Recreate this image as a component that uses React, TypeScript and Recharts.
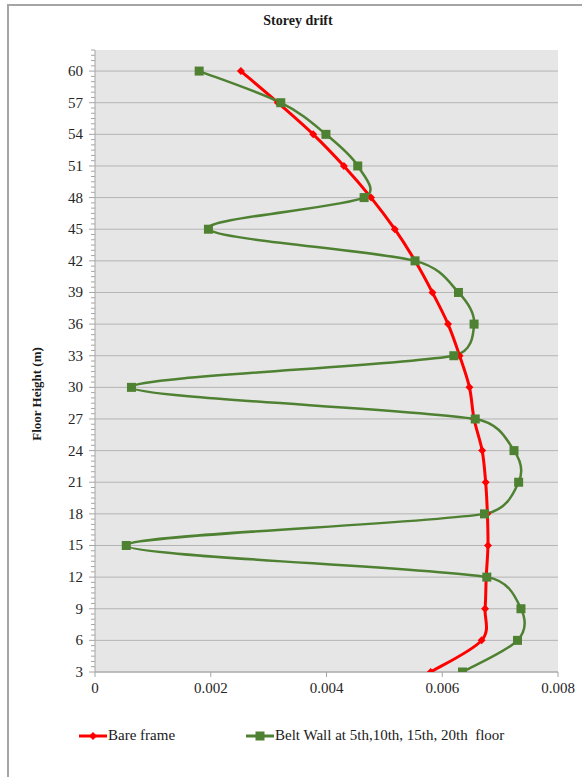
import { CartesianGrid, Line, LineChart, XAxis, YAxis } from "recharts";

// floor heights (m) and inter-storey drift for each model
const heights = [3, 6, 9, 12, 15, 18, 21, 24, 27, 30, 33, 36, 39, 42, 45, 48, 51, 54, 57, 60];
const bareFrame = [
  0.0058, 0.00668, 0.00674, 0.00676, 0.00679, 0.00678, 0.00675, 0.00669, 0.00655, 0.00647,
  0.0063, 0.0061, 0.00583, 0.00553, 0.00518, 0.00477, 0.0043, 0.00377, 0.00316, 0.00252,
];
const beltWall = [
  0.00635, 0.0073, 0.00736, 0.00677, 0.00054, 0.00673, 0.00732, 0.00724, 0.00657, 0.00063,
  0.0062, 0.00655, 0.00628, 0.00553, 0.00196, 0.00465, 0.00454, 0.00399, 0.00321, 0.0018,
];
const xTicks = [0, 0.002, 0.004, 0.006, 0.008];
const yTicks = [3, 6, 9, 12, 15, 18, 21, 24, 27, 30, 33, 36, 39, 42, 45, 48, 51, 54, 57, 60];
// minor tick marks every 0.5 m along the height axis
const yAllTicks = Array.from({ length: 119 }, (_, i) => 3 + i * 0.5);

const data = heights.map((h, i) => ({ h, bare: bareFrame[i], belt: beltWall[i] }));

const RED = "#ff0000";
const GREEN = "#4f8132";
const AXIS = "#a6a6a6";
const SERIF = "Liberation Serif, Times New Roman, serif";
const tickStyle = { fill: "#262626", fontSize: 15, fontFamily: SERIF };

// Office-style smoothed line: bezier through the points, 1/6 tension,
// control arms capped at half the segment length
const smoothCurve = (context: any) => {
  let pts: [number, number][] = [];
  const dist = (a: [number, number], b: [number, number]) => Math.hypot(a[0] - b[0], a[1] - b[1]);
  return {
    areaStart() {},
    areaEnd() {},
    lineStart() {
      pts = [];
    },
    point(x: number, y: number) {
      pts.push([x, y]);
    },
    lineEnd() {
      const n = pts.length;
      if (!n) return;
      context.moveTo(pts[0][0], pts[0][1]);
      for (let i = 0; i < n - 1; i++) {
        const p0 = pts[Math.max(i - 1, 0)];
        const p1 = pts[i];
        const p2 = pts[i + 1];
        const p3 = pts[Math.min(i + 2, n - 1)];
        const d12 = dist(p1, p2);
        const d02 = dist(p0, p2);
        const d13 = dist(p1, p3);
        const f = d02 / 6 < d12 / 2 ? 1 / 6 : d12 / (2 * d02);
        const g = d13 / 6 < d12 / 2 ? 1 / 6 : d12 / (2 * d13);
        context.bezierCurveTo(
          p1[0] + (p2[0] - p0[0]) * f,
          p1[1] + (p2[1] - p0[1]) * f,
          p2[0] - (p3[0] - p1[0]) * g,
          p2[1] - (p3[1] - p1[1]) * g,
          p2[0],
          p2[1]
        );
      }
    },
  };
};

const Diamond = (props: any) => {
  const { cx, cy } = props;
  if (cx == null || cy == null) return null;
  const r = 4;
  return (
    <path
      d={`M${cx},${cy - r}L${cx + r},${cy}L${cx},${cy + r}L${cx - r},${cy}Z`}
      fill={RED}
      stroke="none"
    />
  );
};

const Square = (props: any) => {
  const { cx, cy } = props;
  if (cx == null || cy == null) return null;
  const s = 9;
  return <rect x={cx - s / 2} y={cy - s / 2} width={s} height={s} fill={GREEN} />;
};

// height axis tick: long mark + label on multiples of 3, short mark otherwise
const HeightTick = (props: any) => {
  const { x, y, payload } = props;
  const v = payload.value;
  const major = yTicks.includes(v);
  const axisX = x + 12;
  return (
    <g>
      <line x1={axisX - (major ? 6 : 4)} y1={y} x2={axisX} y2={y} stroke={AXIS} strokeWidth={1} />
      {major && (
        <text x={x} y={y} textAnchor="end" dominantBaseline="central" {...tickStyle}>
          {v}
        </text>
      )}
    </g>
  );
};

const AxisTitle = (props: any) => {
  const { viewBox } = props;
  const cy = viewBox.y + viewBox.height / 2 + 33;
  return (
    <text
      x={36}
      y={cy}
      transform={`rotate(-90, 36, ${cy})`}
      textAnchor="middle"
      dominantBaseline="central"
      fontFamily={SERIF}
      fontSize={13}
      fontWeight="bold"
      fill="#1a1a1a"
    >
      Floor Height (m)
    </text>
  );
};

function LegendItem({ color, label, marker }: { color: string; label: string; marker: "diamond" | "square" }) {
  return (
    <div style={{ display: "flex", alignItems: "center" }}>
      <svg width={28} height={12}>
        <line x1={0} y1={6} x2={28} y2={6} stroke={color} strokeWidth={3} />
        {marker === "diamond" ? (
          <path d="M14,2L18,6L14,10L10,6Z" fill={color} />
        ) : (
          <rect x={9.5} y={1.5} width={9} height={9} fill={color} />
        )}
      </svg>
      <span style={{ fontFamily: SERIF, fontSize: 15, color: "#1a1a1a", marginLeft: 1, whiteSpace: "pre" }}>
        {label}
      </span>
    </div>
  );
}

export default function App() {
  return (
    <div style={{ position: "absolute", left: 0, top: 0, width: 582, height: 777, background: "#fff", overflow: "hidden" }}>
      <div
        style={{
          position: "absolute",
          left: 7,
          top: 4,
          width: 600,
          height: 800,
          borderLeft: "2.5px solid #a5a5a5",
          borderTop: "2.5px solid #a5a5a5",
        }}
      />
      <div
        style={{
          position: "absolute",
          top: 13,
          left: 0,
          width: 596,
          textAlign: "center",
          fontFamily: SERIF,
          fontSize: 14,
          fontWeight: "bold",
          color: "#1a1a1a",
        }}
      >
        Storey drift
      </div>
      <div style={{ position: "absolute", left: 0, top: 0 }}>
        <LineChart
          width={582}
          height={777}
          data={data}
          layout="vertical"
          margin={{ top: 50, right: 24, left: 40, bottom: 75 }}
        >
          <CartesianGrid
            horizontal
            vertical={false}
            stroke="#b4b4b4"
            fill="#e6e6e6"
            fillOpacity={1}
            horizontalValues={yTicks}
          />
          <XAxis
            type="number"
            domain={[0, 0.008]}
            ticks={xTicks}
            allowDataOverflow
            tick={tickStyle}
            tickSize={5}
            tickMargin={5}
            axisLine={{ stroke: AXIS }}
            tickLine={{ stroke: AXIS }}
            height={30}
          />
          <YAxis
            type="number"
            dataKey="h"
            domain={[3, 62]}
            ticks={yAllTicks}
            reversed
            allowDataOverflow
            interval={0}
            tick={<HeightTick />}
            tickSize={6}
            tickMargin={6}
            axisLine={{ stroke: AXIS }}
            tickLine={false}
            width={55}
            label={<AxisTitle />}
          />
          <Line
            dataKey="bare"
            type={smoothCurve as any}
            stroke={RED}
            strokeWidth={3}
            dot={<Diamond />}
            activeDot={false}
            isAnimationActive={false}
          />
          <Line
            dataKey="belt"
            type={smoothCurve as any}
            stroke={GREEN}
            strokeWidth={2.5}
            dot={<Square />}
            activeDot={false}
            isAnimationActive={false}
          />
        </LineChart>
      </div>
      <div style={{ position: "absolute", top: 727, left: 79 }}>
        <LegendItem color={RED} label="Bare frame" marker="diamond" />
      </div>
      <div style={{ position: "absolute", top: 727, left: 246 }}>
        <LegendItem color={GREEN} label="Belt Wall at 5th,10th, 15th, 20th  floor" marker="square" />
      </div>
    </div>
  );
}
